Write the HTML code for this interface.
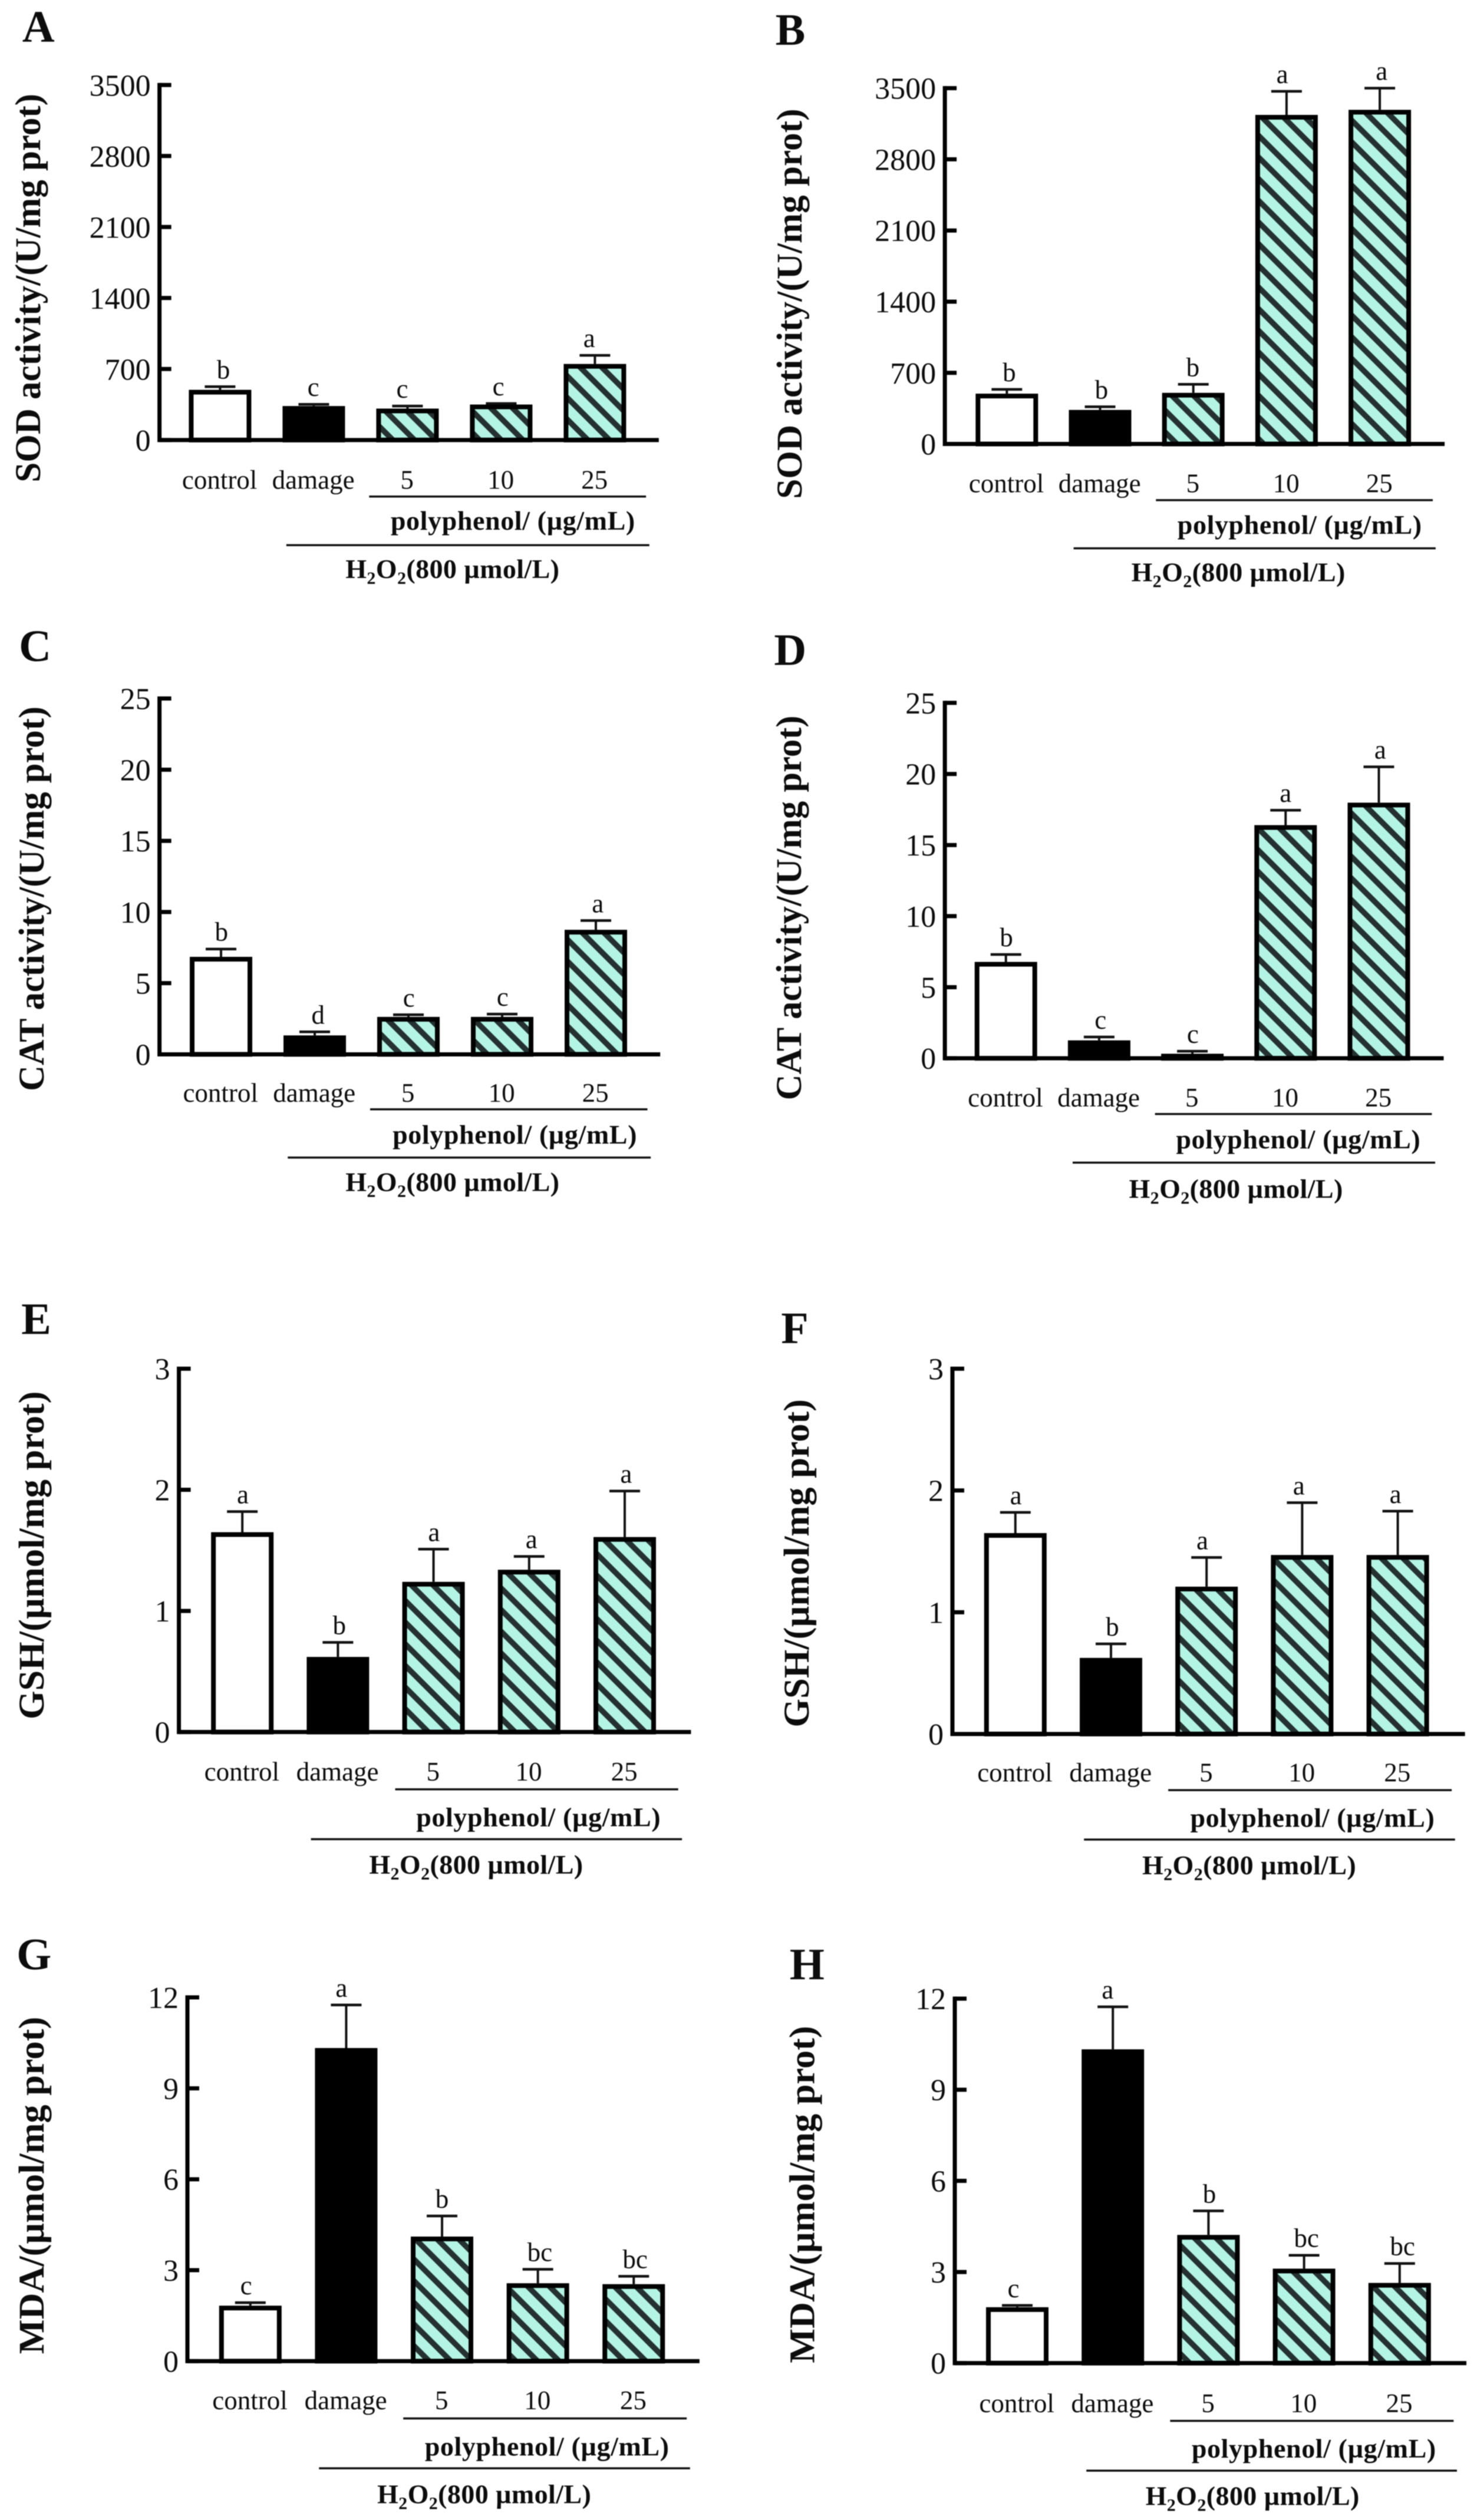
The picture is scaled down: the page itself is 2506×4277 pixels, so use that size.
<!DOCTYPE html>
<html lang="en">
<head>
<meta charset="utf-8">
<title>Antioxidant indicators bar chart panels</title>
<style>
  html, body { margin: 0; padding: 0; background: #fff; }
  #figure { display: block; width: 2506px; height: 4277px; filter: blur(0.7px); }
  text { font-family: "Liberation Serif", "Noto Serif CJK SC", serif; fill: #0c0c0c; }
  .bold { font-weight: 700; }
</style>
</head>
<body>
<svg id="figure" xmlns="http://www.w3.org/2000/svg" width="2506" height="4277" viewBox="0 0 2506 4277">
  <defs>
    <pattern id="hatch" patternUnits="userSpaceOnUse" width="26" height="26" patternTransform="rotate(45)">
      <rect width="26" height="26" fill="#b4f4e5"></rect>
      <rect width="26" height="9.5" fill="#253130"></rect>
    </pattern>
  </defs>
  <rect width="2506" height="4277" fill="#ffffff"></rect>
  <g id="panels"></g>
</svg>
<script>
// ---- chart data ----
const categories = ['control', 'damage', '5', '10', '25'];

const sodTicks = [0, 700, 1400, 2100, 2800, 3500];
const catTicks = [0, 5, 10, 15, 20, 25];
const gshTicks = [0, 1, 2, 3];
const mdaTicks = [0, 3, 6, 9, 12];

const panelAValues = [495, 335, 310, 350, 750];
const panelAUpper = [526, 352, 335, 360, 835];
const panelALetters = ['b', 'c', 'c', 'c', 'a'];

const panelBValues = [495, 335, 503, 3237, 3287];
const panelBUpper = [537, 366, 587, 3469, 3500];
const panelBLetters = ['b', 'b', 'b', 'a', 'a'];

const panelCValues = [6.85, 1.33, 2.63, 2.63, 8.75];
const panelCUpper = [7.4, 1.58, 2.78, 2.83, 9.4];
const panelCLetters = ['b', 'd', 'c', 'c', 'a'];

const panelDValues = [6.78, 1.26, 0.32, 16.4, 17.98];
const panelDUpper = [7.3, 1.5, 0.5, 17.45, 20.5];
const panelDLetters = ['b', 'c', 'c', 'a', 'a'];

const panelEValues = [1.65, 0.62, 1.24, 1.34, 1.61];
const panelEUpper = [1.82, 0.74, 1.51, 1.45, 1.99];
const panelELetters = ['a', 'b', 'a', 'a', 'a'];

const panelFValues = [1.65, 0.625, 1.21, 1.47, 1.47];
const panelFUpper = [1.82, 0.74, 1.45, 1.9, 1.83];
const panelFLetters = ['a', 'b', 'a', 'a', 'a'];

const panelGValues = [1.83, 10.33, 4.11, 2.57, 2.54];
const panelGUpper = [1.93, 11.75, 4.79, 3.03, 2.8];
const panelGLetters = ['c', 'a', 'b', 'bc', 'bc'];

const panelHValues = [1.84, 10.33, 4.22, 3.11, 2.64];
const panelHUpper = [1.9, 11.73, 5.01, 3.55, 3.28];
const panelHLetters = ['c', 'a', 'b', 'bc', 'bc'];

// ---- layout (each panel measured in its own crop units, scaled to pixels below) ----
const KX = 0.803, KY = 0.671;
const panels = [
  { id: 'a', letter: 'A', ox: 0, oy: 0, title: 'SOD activity/(U/mg prot)', ticks: sodTicks, values: panelAValues, upper: panelAUpper, letters: panelALetters,
    axisX: 337, top: 215, zero: 1113, end: 1392, first: 465, step: 198, nudge: [6, -2, -12, -7, -13],
    titleX: 85, titleA: 237, titleB: 1220, lx: 47, ly: 105, l1: [780, 1365, 1256], l2: [605, 1372, 1379], polyX: 828, polyY: 1340, hX: 730, hY: 1462, catY: 1236 },
  { id: 'b', letter: 'B', ox: 1253, oy: 0, title: 'SOD activity/(U/mg prot)', ticks: sodTicks, values: panelBValues, upper: panelBUpper, letters: panelBLetters,
    axisX: 436, top: 223, zero: 1123, end: 1492, first: 567, step: 197, nudge: [4, 2, -2, -10, 3],
    titleX: 133, titleA: 275, titleB: 1262, lx: 78, ly: 113, l1: [882, 1467, 1265], l2: [708, 1473, 1387], polyX: 930, polyY: 1350, hX: 830, hY: 1470, catY: 1245 },
  { id: 'c', letter: 'C', ox: 0, oy: 1050, title: 'CAT activity/(U/mg prot)', ticks: catTicks, values: panelCValues, upper: panelCUpper, letters: panelCLetters,
    axisX: 337, top: 202, zero: 1102, end: 1395, first: 467, step: 198, nudge: [0, 6, 0, 0, 3],
    titleX: 92, titleA: 222, titleB: 1195, lx: 40, ly: 107, l1: [782, 1368, 1241], l2: [608, 1375, 1363], polyX: 832, polyY: 1328, hX: 730, hY: 1448, catY: 1222 },
  { id: 'd', letter: 'D', ox: 1253, oy: 1050, title: 'CAT activity/(U/mg prot)', ticks: catTicks, values: panelDValues, upper: panelDUpper, letters: panelDLetters,
    axisX: 436, top: 213, zero: 1112, end: 1490, first: 565, step: 197, nudge: [0, 2, 0, -1, 2],
    titleX: 132, titleA: 245, titleB: 1218, lx: 75, ly: 117, l1: [880, 1465, 1253], l2: [706, 1472, 1376], polyX: 927, polyY: 1340, hX: 825, hY: 1465, catY: 1234 },
  { id: 'e', letter: 'E', ox: 0, oy: 2170, title: 'GSH/(\u00b5mol/mg prot)', ticks: gshTicks, values: panelEValues, upper: panelEUpper, letters: panelELetters,
    axisX: 378, top: 228, zero: 1147, end: 1460, first: 512, step: 202, nudge: [0, 2, 0, 4, 2],
    titleX: 92, titleA: 285, titleB: 1115, lx: 45, ly: 140, l1: [835, 1433, 1292], l2: [657, 1441, 1418], polyX: 882, polyY: 1385, hX: 780, hY: 1505, catY: 1270 },
  { id: 'f', letter: 'F', ox: 1253, oy: 2170, title: 'GSH/(\u00b5mol/mg prot)', ticks: gshTicks, values: panelFValues, upper: panelFUpper, letters: panelFLetters,
    axisX: 452, top: 228, zero: 1152, end: 1535, first: 585, step: 202, nudge: [0, 2, -10, -8, -6],
    titleX: 148, titleA: 305, titleB: 1135, lx: 90, ly: 163, l1: [908, 1507, 1294], l2: [730, 1514, 1419], polyX: 957, polyY: 1387, hX: 853, hY: 1507, catY: 1272 },
  { id: 'g', letter: 'G', ox: 0, oy: 3227, title: 'MDA/(\u00b5mol/mg prot)', ticks: mdaTicks, values: panelGValues, upper: panelGUpper, letters: panelGLetters,
    axisX: 396, top: 243, zero: 1163, end: 1478, first: 529, step: 202.5, nudge: [-10, -11, -1, 3, 2],
    titleX: 92, titleA: 292, titleB: 1145, lx: 35, ly: 172, l1: [852, 1451, 1308], l2: [674, 1458, 1434], polyX: 900, polyY: 1402, hX: 797, hY: 1522, catY: 1285 },
  { id: 'h', letter: 'H', ox: 1253, oy: 3227, title: 'MDA/(\u00b5mol/mg prot)', ticks: mdaTicks, values: panelHValues, upper: panelHUpper, letters: panelHLetters,
    axisX: 457, top: 246, zero: 1168, end: 1538, first: 589, step: 202, nudge: [-9, -12, 1, 4, 5],
    titleX: 160, titleA: 315, titleB: 1168, lx: 108, ly: 197, l1: [912, 1511, 1314], l2: [735, 1518, 1440], polyX: 960, polyY: 1407, hX: 860, hY: 1527, catY: 1292 }
];

const SVG_NS = 'http://www.w3.org/2000/svg';
const BAR_W = 106, BAR_STROKE = 8, AXIS_W = 7, TICK_LEN = 20, CAP_W = 52;

function make(tag, attrs, parent) {
  const node = document.createElementNS(SVG_NS, tag);
  for (const key in attrs) node.setAttribute(key, attrs[key]);
  parent.appendChild(node);
  return node;
}

function drawPanel(p, root) {
  const px = v => p.ox + v * KX;
  const py = v => p.oy + v * KY;
  const axisX = px(p.axisX);
  const zeroY = py(p.zero);
  const topY = py(p.top);
  const maxTick = p.ticks[p.ticks.length - 1];
  const yScale = v => zeroY - (v / maxTick) * (zeroY - topY);
  const xScale = i => px(p.first + i * p.step);

  const g = make('g', {}, root);
  
  

  const panelLabel = make('text', { x: px(p.lx), y: py(p.ly), class: 'bold', 'font-size': 76 }, g);
  panelLabel.textContent = p.letter;
  
  

  const tx = px(p.titleX);
  const ty = py((p.titleA + p.titleB) / 2);
  const title = make('text', {
    x: tx, y: ty, class: 'bold', 'font-size': 61, 'text-anchor': 'middle',
    transform: 'rotate(-90 ' + tx + ' ' + ty + ')',
    textLength: (p.titleB - p.titleA) * KY, lengthAdjust: 'spacingAndGlyphs'
  }, g);
  title.textContent = p.title;
  
  

  // bars and error bars
  p.values.forEach((value, i) => {
    const cx = xScale(i);
    const barTop = yScale(value);
    const fill = i === 0 ? '#ffffff' : (i === 1 ? '#000000' : 'url(#hatch)');

    const stem = make('line', { x1: cx, x2: cx, y1: yScale(p.upper[i]), y2: barTop, stroke: '#111', 'stroke-width': 4 }, g);
    
    

    const cap = make('line', { x1: cx - CAP_W / 2, x2: cx + CAP_W / 2, y1: yScale(p.upper[i]), y2: yScale(p.upper[i]), stroke: '#111', 'stroke-width': 4.5 }, g);
    
    

    const bar = make('rect', {
      x: cx - BAR_W / 2 + BAR_STROKE / 2,
      y: barTop + BAR_STROKE / 2,
      width: BAR_W - BAR_STROKE,
      height: Math.max(0, zeroY - barTop - BAR_STROKE / 2),
      fill: fill, stroke: '#000', 'stroke-width': BAR_STROKE
    }, g);
    
    

    const sig = make('text', {
      x: cx + (p.nudge[i] + 1) * KX, y: yScale(p.upper[i]) - 14,
      'font-size': 45, 'text-anchor': 'middle'
    }, g);
    sig.textContent = p.letters[i];
    
    

    const cat = make('text', {
      x: cx - 1 * KX, y: py(p.catY), 'font-size': 45, 'text-anchor': 'middle'
    }, g);
    cat.textContent = categories[i];
    
    
  });

  // axes
  const yAxis = make('line', { x1: axisX, x2: axisX, y1: topY - AXIS_W / 2, y2: zeroY + AXIS_W / 2, stroke: '#000', 'stroke-width': AXIS_W }, g);
  
  

  const xAxis = make('line', { x1: axisX, x2: px(p.end), y1: zeroY, y2: zeroY, stroke: '#000', 'stroke-width': AXIS_W }, g);
  
  

  p.ticks.forEach(t => {
    const y = yScale(t);
    const mark = make('line', { x1: axisX, x2: axisX + TICK_LEN, y1: y, y2: y, stroke: '#000', 'stroke-width': AXIS_W }, g);
    
    

    const label = make('text', { x: axisX - 15, y: y + 18, 'font-size': 52, 'text-anchor': 'end' }, g);
    label.textContent = String(t);
    
    
  });

  // group annotations
  const doseLine = make('line', { x1: px(p.l1[0]), x2: px(p.l1[1]), y1: py(p.l1[2]), y2: py(p.l1[2]), stroke: '#111', 'stroke-width': 3.5 }, g);
  
  

  const h2o2Line = make('line', { x1: px(p.l2[0]), x2: px(p.l2[1]), y1: py(p.l2[2]), y2: py(p.l2[2]), stroke: '#111', 'stroke-width': 3.5 }, g);
  
  

  const poly = make('text', { x: px(p.polyX) - 2, y: py(p.polyY), class: 'bold', 'font-size': 46, 'letter-spacing': 0.6 }, g);
  poly.textContent = 'polyphenol/ (\u00b5g/mL)';
  
  

  const h2o2 = make('text', { x: px(p.hX), y: py(p.hY), class: 'bold', 'font-size': 46, 'letter-spacing': 0.4 }, g);
  
  
  make('tspan', {}, h2o2).textContent = 'H';
  make('tspan', { dy: 10, 'font-size': 30 }, h2o2).textContent = '2';
  make('tspan', { dy: -10 }, h2o2).textContent = 'O';
  make('tspan', { dy: 10, 'font-size': 30 }, h2o2).textContent = '2';
  make('tspan', { dy: -10 }, h2o2).textContent = '(800 \u00b5mol/L)';
}

const panelsRoot = document.getElementById('panels');
panels.forEach(p => drawPanel(p, panelsRoot));
</script>
</body>
</html>
